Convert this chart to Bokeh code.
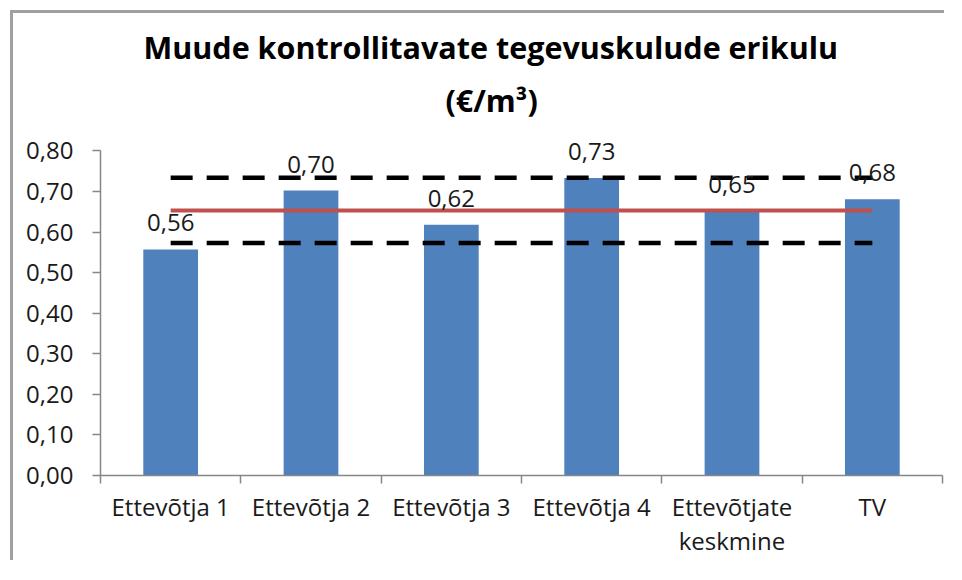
from bokeh.plotting import figure
from bokeh.models import (ColumnDataSource, Range1d, FixedTicker, LinearAxis,
                          LabelSet, CustomJSTickFormatter, Title)
from bokeh.core.properties import value
from bokeh.embed import file_html
from bokeh.resources import INLINE

# ---- data ----
categories = ["Ettevõtja 1", "Ettevõtja 2", "Ettevõtja 3", "Ettevõtja 4",
              "Ettevõtjate\nkeskmine", "TV"]
values = [0.557, 0.702, 0.618, 0.733, 0.652, 0.681]
mean_level = [0.653] * 6
upper_level = [0.734] * 6
lower_level = [0.573] * 6
y_ticks = [0.0, 0.1, 0.2, 0.3, 0.4, 0.5, 0.6, 0.7, 0.8]
title_main = "Muude kontrollitavate tegevuskulude erikulu"
title_unit = "(€/m³)"

FONT = "Open Sans"
BAR = "#4F81BD"
RED = "#C0504D"
FS = "24px"

centers = [i + 0.5 for i in range(len(categories))]
labels = [f"{v:.2f}".replace(".", ",") for v in values]
src = ColumnDataSource(dict(x=centers, top=values, label=labels))

p = figure(width=944, height=560, output_backend="svg", toolbar_location=None,
           x_range=Range1d(0, len(categories)), y_range=Range1d(0, 0.86),
           min_border_left=100, min_border_right=2, min_border_top=126,
           min_border_bottom=79, x_axis_type=None, y_axis_type=None)
p.styles = {"box-shadow": "inset 10px 10px 0 0 #ffffff, inset 13px 13px 0 0 #a0a0a0"}
p.outline_line_color = None
p.xgrid.visible = False
p.ygrid.visible = False
p.background_fill_color = "white"
p.border_fill_color = None

t_unit = Title(text=title_unit, align="left", offset=345, text_font=FONT,
               text_font_style="bold", text_font_size="30.5px", text_color="black",
               standoff=12)
t_main = Title(text=title_main, align="left", offset=43, text_font=FONT,
               text_font_style="bold", text_font_size="30.5px", text_color="black",
               standoff=6)
p.add_layout(t_unit, "above")
p.add_layout(t_main, "above")

# bars
p.vbar(x="x", top="top", width=0.39, source=src, fill_color=BAR, line_color=None)

# reference lines
p.line(centers, upper_level, line_color="black", line_width=4.5, line_dash="22 14")
p.line(centers, lower_level, line_color="black", line_width=4.5, line_dash="22 14")
p.line(centers, mean_level, line_color=RED, line_width=4)

# data labels
p.add_layout(LabelSet(x="x", y="top", text="label", source=src, text_align="center",
                      text_baseline="alphabetic", y_offset=18, text_font=value(FONT),
                      text_font_size=value(FS), text_color="#1a1a1a"))

# y axis
yaxis = LinearAxis(ticker=FixedTicker(ticks=y_ticks), bounds=(0, 0.8))
yaxis.formatter = CustomJSTickFormatter(code="return tick.toFixed(2).replace('.', ',');")
yaxis.axis_line_color = "#868686"
yaxis.axis_line_width = 1.5
yaxis.major_tick_line_color = "#868686"
yaxis.major_tick_line_width = 1.5
yaxis.major_tick_out = 8
yaxis.major_tick_in = 0
yaxis.minor_tick_line_color = None
yaxis.major_label_text_font = FONT
yaxis.major_label_text_font_size = FS
yaxis.major_label_text_color = "#1a1a1a"
yaxis.major_label_standoff = 19
p.add_layout(yaxis, "left")

# x axis: labels at centers, ticks at category boundaries
xaxis = LinearAxis(ticker=FixedTicker(ticks=centers,
                                      minor_ticks=list(range(len(categories) + 1))))
xaxis.major_label_overrides = {c: lab for c, lab in zip(centers, categories)}
xaxis.axis_line_color = "#868686"
xaxis.axis_line_width = 1.5
xaxis.major_tick_line_color = None
xaxis.minor_tick_line_color = "#868686"
xaxis.minor_tick_line_width = 1.5
xaxis.minor_tick_out = 8
xaxis.minor_tick_in = 0
xaxis.major_label_text_font = FONT
xaxis.major_label_text_font_size = FS
xaxis.major_label_text_line_height = 1.05
xaxis.major_label_text_color = "#1a1a1a"
xaxis.major_label_standoff = 6
p.add_layout(xaxis, "below")

open("out.html", "w").write(file_html(p, INLINE))
